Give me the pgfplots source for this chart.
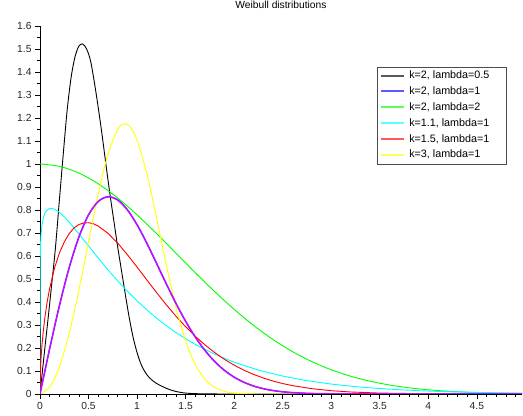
\documentclass[border=0pt]{standalone}
\usepackage{pgfplots}
\pgfplotsset{compat=1.18}
\usepackage{fontspec}
\setmainfont{Liberation Sans}
\definecolor{wgreen}{RGB}{0,255,0}
\definecolor{wcyan}{RGB}{0,255,255}
\definecolor{wyellow}{RGB}{255,255,0}
\definecolor{wblue}{RGB}{0,0,255}
\definecolor{wred}{RGB}{255,0,0}
\definecolor{wpurple}{RGB}{180,20,255}
\begin{document}
\begin{tikzpicture}
\path[use as bounding box] (-40bp,-22bp) rectangle (483bp,394bp);
\begin{axis}[
  scale only axis, width=482bp, height=368bp,
  xmin=0, xmax=4.965, ymin=0, ymax=1.6,
  axis x line=bottom, axis y line=left,
  axis line style={-, black, line width=0.8bp},
  xtick distance=0.5, ytick distance=0.1,
  minor x tick num=4, minor y tick num=1,
  tick align=outside,
  major tick length=5bp, minor tick length=3bp,
  tick style={black, line width=0.6bp},
  ticklabel style={font=\fontsize{10.3}{12}\selectfont, text=black!85},
  /pgf/number format/assume math mode=true,
  /pgf/number format/fixed,
  title={Weibull distributions},
  title style={at={(0.5,1)}, anchor=center, yshift=15bp, font=\fontsize{10.3}{12}\selectfont},
  legend style={at={(0.969,0.889)}, anchor=north east, draw=black!70, line width=0.6bp,
    font=\fontsize{10.8}{12}\selectfont, inner sep=2bp, row sep=2.35bp, column sep=3bp,
    nodes={inner sep=1.5bp, text height=8bp, text depth=2.5bp}},
  legend cell align=left,
  legend image code/.code={\draw[#1, line width=2bp, opacity=0.65] (0bp,0.25bp) -- (23bp,0.25bp);},
]
% k=2, lambda=0.5 (black)
\addplot[black, line width=0.9bp, smooth] coordinates {
(0,0) (0.04,0.16) (0.08,0.315) (0.12,0.475) (0.16,0.64) (0.20,0.845) (0.24,1.045)
(0.28,1.235) (0.32,1.375) (0.36,1.465) (0.40,1.512) (0.44,1.522) (0.48,1.50) (0.52,1.45)
(0.56,1.355) (0.60,1.245) (0.64,1.125) (0.68,0.995) (0.72,0.87) (0.76,0.755) (0.80,0.64)
(0.84,0.535) (0.88,0.43) (0.92,0.33) (0.96,0.245) (1.00,0.18) (1.04,0.13) (1.08,0.097)
(1.12,0.074) (1.16,0.058) (1.20,0.046) (1.25,0.035) (1.30,0.025) (1.35,0.017) (1.40,0.011)
(1.45,0.007) (1.50,0.004) (1.60,0.0015) (1.80,0.0003) (2.0,0) (3.0,0) (4.0,0) (4.965,0)};
\addlegendentry{\makebox[94bp][l]{k=2, lambda=0.5}}
% k=2, lambda=1 (blue)
\addplot[wblue, line width=0.9bp, smooth] coordinates {
(0,0) (0.1,0.19801) (0.2,0.38432) (0.3,0.54836) (0.4,0.68171) (0.5,0.77880) (0.6,0.83722)
(0.7,0.85768) (0.8,0.84366) (0.9,0.80075) (1.0,0.73576) (1.1,0.65604) (1.2,0.56863)
(1.3,0.47975) (1.4,0.39441) (1.5,0.31620) (1.6,0.24736) (1.7,0.18897) (1.8,0.14098)
(1.9,0.10279) (2.0,0.07326) (2.1,0.05107) (2.2,0.03480) (2.3,0.02318) (2.4,0.01512)
(2.5,0.00965) (2.6,0.00603) (2.7,0.00367) (2.8,0.00218) (3.0,0.00072) (3.5,0.00003) (4.965,0)};
\addlegendentry{\makebox[94bp][l]{k=2, lambda=1}}
% k=2, lambda=2 (green)
\addplot[wgreen, line width=0.9bp, smooth] coordinates {
(0,1) (0.2,0.99005) (0.4,0.96079) (0.6,0.91393) (0.8,0.85214) (1.0,0.77880) (1.2,0.69768)
(1.4,0.61263) (1.6,0.52729) (1.8,0.44486) (2.0,0.36788) (2.2,0.29820) (2.4,0.23693)
(2.6,0.18452) (2.8,0.14086) (3.0,0.10540) (3.2,0.07730) (3.4,0.05558) (3.6,0.03916)
(3.8,0.02705) (4.0,0.01832) (4.2,0.01216) (4.4,0.00791) (4.6,0.00504) (4.8,0.00315) (4.965,0.00210)};
\addlegendentry{\makebox[94bp][l]{k=2, lambda=2}}
% k=1.1, lambda=1 (cyan)
\addplot[wcyan, line width=0.9bp] coordinates {
(0,0) (0.001,0.5510) (0.005,0.6457) (0.01,0.6897) (0.02,0.7338) (0.035,0.7669) (0.05,0.7856)
(0.075,0.8002) (0.1,0.8070) (0.15,0.8038) (0.2,0.7898) (0.25,0.7698) (0.3,0.7475) (0.4,0.6967) (0.5,0.6437)
(0.6,0.5910) (0.7,0.5402) (0.8,0.4920) (0.9,0.4467) (1.0,0.40467) (1.1,0.3662) (1.2,0.3300)
(1.3,0.2974) (1.4,0.2674) (1.5,0.2403) (1.6,0.2155) (1.8,0.1729) (2.0,0.1382) (2.25,0.1040)
(2.5,0.07785) (2.75,0.05805) (3.0,0.04314) (3.25,0.0320) (3.5,0.02360) (3.75,0.0174) (4.0,0.01277)
(4.25,0.0094) (4.5,0.00685) (4.75,0.0050) (4.965,0.0039)};
\addlegendentry{\makebox[94bp][l]{k=1.1, lambda=1}}
% k=1.5, lambda=1 (red)
\addplot[wred, line width=0.9bp] coordinates {
(0,0) (0.005,0.1058) (0.01,0.1499) (0.02,0.2115) (0.035,0.2776) (0.05,0.3317) (0.075,0.4033)
(0.1,0.4596) (0.15,0.5482) (0.2,0.6134) (0.25,0.6610) (0.3,0.6971) (0.35,0.7217) (0.4,0.7366)
(0.45,0.7436) (0.5,0.7448) (0.55,0.7401) (0.6,0.7300) (0.7,0.6987) (0.8,0.6560) (0.9,0.6059)
(1.0,0.5518) (1.1,0.4963) (1.2,0.4414) (1.3,0.3885) (1.4,0.3386) (1.5,0.2926) (1.6,0.2507)
(1.7,0.2132) (1.8,0.1799) (1.9,0.1507) (2.0,0.1254) (2.1,0.1036) (2.2,0.0852) (2.3,0.0696) (2.4,0.0564)
(2.5,0.0454) (2.6,0.0365) (2.8,0.02317) (3.0,0.01439) (3.2,0.00876) (3.5,0.00401)
(4.0,0.001006) (4.5,0.000227) (4.965,0.00005)};
\addlegendentry{\makebox[94bp][l]{k=1.5, lambda=1}}
% k=3, lambda=1 (yellow)
\addplot[wyellow, line width=0.9bp, smooth] coordinates {
(0,0) (0.1,0.02997) (0.2,0.11904) (0.3,0.26281) (0.4,0.45024) (0.5,0.66188) (0.6,0.87020)
(0.7,1.04314) (0.8,1.15066) (0.85,1.17286) (0.9,1.17221) (0.95,1.14871) (1.0,1.10364)
(1.1,0.95905) (1.2,0.76745) (1.3,0.56343) (1.4,0.37820) (1.5,0.23098) (1.6,0.12779)
(1.7,0.06372) (1.8,0.02851) (1.9,0.01137) (2.0,0.00403) (2.2,0.00034) (2.5,0) (4.965,0)};
\addlegendentry{\makebox[94bp][l]{k=3, lambda=1}}
% overlay of the k=2, lambda=1 curve as it appears (purple)
\addplot[wpurple, line width=1.6bp, smooth, forget plot] coordinates {
(0,0) (0.1,0.19801) (0.2,0.38432) (0.3,0.54836) (0.4,0.68171) (0.5,0.77880) (0.6,0.83722)
(0.7,0.85768) (0.8,0.84366) (0.9,0.80075) (1.0,0.73576) (1.1,0.65604) (1.2,0.56863)
(1.3,0.47975) (1.4,0.39441) (1.5,0.31620) (1.6,0.24736) (1.7,0.18897) (1.8,0.14098)
(1.9,0.10279) (2.0,0.07326) (2.1,0.05107) (2.2,0.03480) (2.3,0.02318) (2.4,0.01512)
(2.5,0.00965) (2.6,0.00603) (2.7,0.00367) (2.8,0.00218) (3.0,0.00072) (3.5,0.00003) (4.965,0)};
\end{axis}
\end{tikzpicture}
\end{document}
